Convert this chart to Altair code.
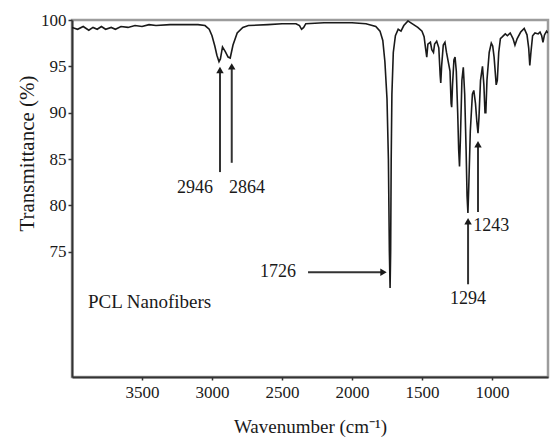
import altair as alt
import pandas as pd

# ---------------- data ----------------
WAVENUMBER = [
    4000, 3960, 3920, 3880, 3850, 3820, 3790, 3760, 3720, 3690, 3650, 3600,
    3550, 3500, 3450, 3400, 3300, 3200, 3100, 3050, 3020, 3000, 2980, 2965,
    2950, 2940, 2925, 2905, 2885, 2870, 2850, 2820, 2780, 2740, 2600, 2500,
    2400, 2375, 2360, 2345, 2330, 2200, 2000, 1900, 1830, 1800, 1780, 1765,
    1750, 1740, 1733, 1728, 1724, 1720, 1715, 1705, 1690, 1670, 1650, 1630,
    1600, 1590, 1560, 1530, 1500, 1485, 1475, 1466, 1458, 1440, 1430, 1418,
    1410, 1395, 1380, 1370, 1366, 1360, 1348, 1336, 1325, 1300, 1292, 1288,
    1282, 1272, 1264, 1255, 1245, 1238, 1232, 1226, 1215, 1205, 1195, 1185,
    1178, 1172, 1166, 1155, 1140, 1130, 1118, 1108, 1100, 1093, 1082, 1068,
    1058, 1050, 1044, 1036, 1020, 1005, 995, 985, 970, 962, 952, 940, 925,
    905, 890, 870, 850, 836, 820, 795, 770, 750, 738, 730, 722, 710, 693,
    670, 657, 645, 636, 625, 610, 600,
]
TRANSMITTANCE = [
    99.2, 99.0, 99.3, 98.9, 99.2, 99.0, 99.3, 99.0, 99.2, 99.0, 99.3, 99.2,
    99.4, 99.3, 99.5, 99.4, 99.5, 99.5, 99.5, 99.4, 99.0, 98.3, 97.2, 96.2,
    95.5, 95.8, 97.1, 96.6, 96.0, 95.9, 97.3, 98.6, 99.2, 99.4, 99.5, 99.6,
    99.6, 99.4, 99.0, 99.2, 99.6, 99.7, 99.7, 99.6, 99.3, 98.8, 97.8, 95.5,
    91.5, 85.0, 75.0, 71.1, 75.0, 85.0, 92.0, 96.5, 98.3, 99.0, 98.8, 99.4,
    99.9, 99.8, 99.5, 99.2, 98.8, 98.2, 97.0, 96.0, 97.4, 97.6, 96.8, 96.5,
    97.4, 97.7, 97.0, 94.0, 93.2, 95.0, 97.3, 97.6, 96.5, 94.5, 91.0, 90.6,
    93.0, 95.7, 96.0, 94.5, 90.0, 86.0, 84.2, 87.0, 93.5, 94.9, 92.0, 86.0,
    81.0, 79.2, 82.0, 88.0, 92.0, 92.4, 91.0, 89.0, 87.8, 89.5, 93.5, 95.0,
    93.0, 90.0, 90.0, 93.5, 96.5, 97.5, 97.2, 96.0, 93.0, 93.5, 96.5, 98.0,
    98.2, 98.5, 98.3, 98.6, 98.0, 97.3, 98.0, 98.7, 99.1, 98.4, 97.0, 95.1,
    96.5, 98.3, 98.6, 98.5, 98.7, 98.3, 97.6, 98.4, 98.8, 98.6,
]

X_TICKS = [3500, 3000, 2500, 2000, 1500, 1000]
Y_TICKS = [75, 80, 85, 90, 95, 100]

PEAK_LABELS = ["2946", "2864", "1726", "1294", "1243"]
PEAK_LABEL_WN = [3121, 2750, 2528, 1171, 1005]
PEAK_LABEL_T = [81.9, 81.9, 72.8, 69.9, 77.8]

VARROW_WN = [2943, 2859, 1171, 1100]
VARROW_FROM = [83.6, 84.6, 71.5, 79.3]
VARROW_TO = [94.6, 95.0, 78.3, 86.6]

HARROW_FROM = [2314]
HARROW_TO = [1775]
HARROW_T = [72.8]

SAMPLE_TEXT = ["PCL Nanofibers"]
SAMPLE_WN = [3886]
SAMPLE_T = [69.6]

# ---------------- tables ----------------
spec = pd.DataFrame({"wn": WAVENUMBER, "t": TRANSMITTANCE})
labels = pd.DataFrame({"wn": PEAK_LABEL_WN, "t": PEAK_LABEL_T, "txt": PEAK_LABELS})
varrows = pd.DataFrame({"wn": VARROW_WN, "t0": VARROW_FROM, "t1": VARROW_TO})
harrows = pd.DataFrame({"w0": HARROW_FROM, "w1": HARROW_TO, "t": HARROW_T})
sample = pd.DataFrame({"wn": SAMPLE_WN, "t": SAMPLE_T, "txt": SAMPLE_TEXT})

FONT = "Liberation Serif"
INK = "#1a1a1a"

xscale = alt.Scale(domain=[600, 4000], reverse=True, nice=False, zero=False)
yscale = alt.Scale(domain=[61.5, 100], nice=False, zero=False)

x_axis = alt.Axis(
    values=X_TICKS, title="Wavenumber (cm\u207b\u00b9)", format="d",
    labelFontSize=17, titleFontSize=19, labelPadding=4, titlePadding=17,
    tickSize=3, grid=False,
)
y_axis = alt.Axis(
    values=Y_TICKS, title="Transmittance (%)", format="d",
    labelFontSize=17, titleFontSize=21, labelPadding=2, tickSize=4,
    titleX=-45, titleY=133, titleAlign="center", titleBaseline="middle",
    grid=False,
)


def X(field):
    return alt.X(field, scale=xscale, axis=x_axis)


def Y(field):
    return alt.Y(field, scale=yscale, axis=y_axis)


line = alt.Chart(spec).mark_line(color=INK, strokeWidth=1.6, clip=True).encode(
    x=X("wn:Q"), y=Y("t:Q"), order="index:Q",
).transform_window(index="row_number()")

vr = alt.Chart(varrows).mark_rule(color="#333", strokeWidth=2).encode(
    x=X("wn:Q"), y=Y("t0:Q"), y2="t1:Q",
)
vh = alt.Chart(varrows).mark_point(
    shape="triangle-up", filled=True, color=INK, size=55, opacity=1
).encode(x=X("wn:Q"), y=Y("t1:Q"))
hr = alt.Chart(harrows).mark_rule(color="#333", strokeWidth=2).encode(
    x=X("w0:Q"), x2="w1:Q", y=Y("t:Q"),
)
hh = alt.Chart(harrows).mark_point(
    shape="triangle-right", filled=True, color=INK, size=55, opacity=1
).encode(x=X("w1:Q"), y=Y("t:Q"))
txt = alt.Chart(labels).mark_text(font=FONT, fontSize=18, color=INK).encode(
    x=X("wn:Q"), y=Y("t:Q"), text="txt:N",
)
stxt = alt.Chart(sample).mark_text(font=FONT, fontSize=19, color=INK, align="left").encode(
    x=X("wn:Q"), y=Y("t:Q"), text="txt:N",
)

chart = (
    alt.layer(line, vr, vh, hr, hh, txt, stxt)
    .properties(
        width=476, height=357,
        autosize=alt.AutoSizeParams(type="none"),
        padding={"left": 64, "top": 12, "right": 2, "bottom": 64},
        background="white",
    )
    .configure_view(stroke="#9c9c9c", strokeWidth=2.5)
    .configure_axis(
        labelFont=FONT, titleFont=FONT, labelColor=INK, titleColor=INK,
        titleFontWeight="normal", domainColor="#333", domainWidth=2,
        tickColor="#333", tickWidth=1.5,
    )
)

chart.save("out.html", embed_options={"renderer": "svg", "actions": False})
